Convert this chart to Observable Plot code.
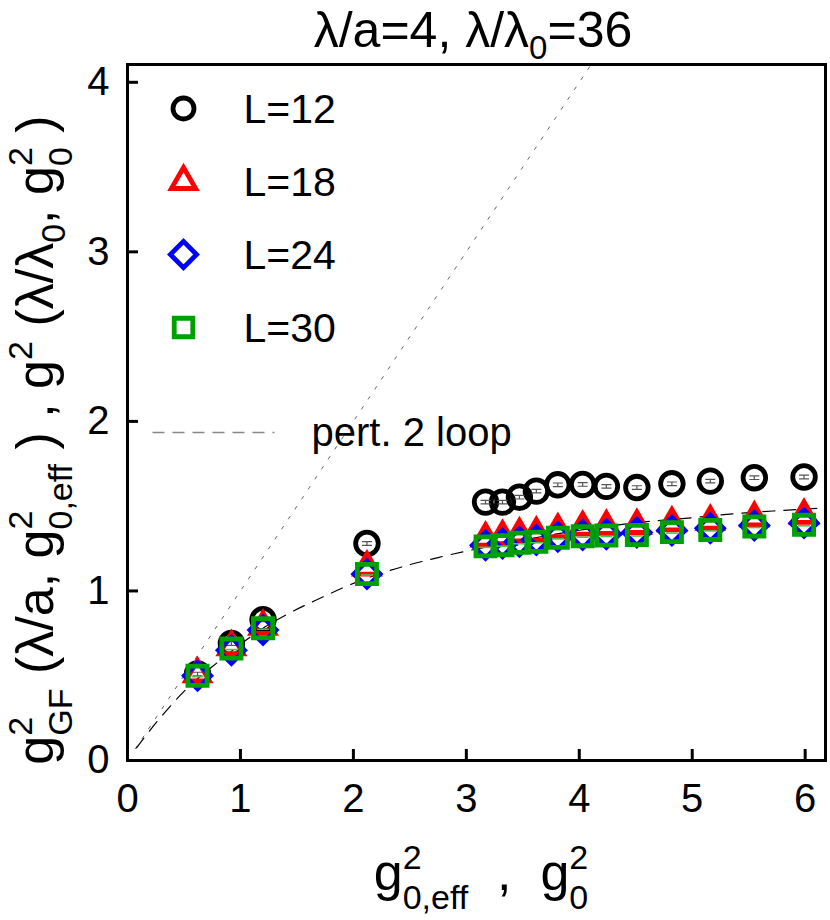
<!DOCTYPE html>
<html><head><meta charset="utf-8">
<script src="https://cdn.jsdelivr.net/npm/d3@7"></script>
<script src="https://cdn.jsdelivr.net/npm/@observablehq/plot@0.6"></script>
<style>
body{margin:0;background:#fff;}
#chart svg{display:block;}
</style></head><body><div id="chart"></div>
<script>
// ---- data ----
const g0 = [0.62, 0.92, 1.20, 2.12, 3.17, 3.32, 3.47, 3.62, 3.81, 4.03, 4.24, 4.51, 4.82, 5.16, 5.55, 5.99];
const L12 = [0.51, 0.69, 0.83, 1.28, 1.524, 1.524, 1.553, 1.589, 1.626, 1.628, 1.617, 1.61, 1.632, 1.648, 1.668, 1.672];
const L18 = [0.51, 0.67, 0.79, 1.14, 1.31, 1.32, 1.335, 1.34, 1.36, 1.375, 1.38, 1.385, 1.40, 1.41, 1.43, 1.445];
const L24 = [0.50, 0.65, 0.77, 1.10, 1.27, 1.28, 1.29, 1.30, 1.32, 1.33, 1.335, 1.345, 1.357, 1.37, 1.386, 1.40];
const L30 = [0.50, 0.66, 0.78, 1.10, 1.263, 1.27, 1.284, 1.29, 1.314, 1.323, 1.327, 1.33, 1.347, 1.36, 1.38, 1.39];
const seriesNames = ["L=12", "L=18", "L=24", "L=30"];

// perturbative 2-loop curve
const pertX = [0.08, 0.3, 0.55, 0.8, 1.0, 1.2, 1.45, 1.7, 2.0, 2.25, 2.5, 2.75, 3.0, 3.25, 3.5, 3.75, 4.0, 4.25, 4.5, 4.75, 5.0, 5.25, 5.5, 5.75, 6.18];
const pertY = [0.075, 0.26, 0.44, 0.58, 0.685, 0.78, 0.875, 0.955, 1.045, 1.105, 1.155, 1.197, 1.235, 1.268, 1.30, 1.33, 1.358, 1.382, 1.402, 1.418, 1.432, 1.448, 1.462, 1.473, 1.49];
// tree-level diagonal g_GF^2 = g_0^2
const treeX = [0.07, 4.3];
const treeY = [0.07, 4.3];

const xTicks = [0, 1, 2, 3, 4, 5, 6];
const yTicks = [0, 1, 2, 3, 4];
const xDomain = [0, 6.18];
const yDomain = [0, 4.105];
const pertLabel = "pert. 2 loop";

// ---- styling ----
const W = 830, H = 920, ML = 127, MR = 5, MT = 64, MB = 160;
const FONT = "'Liberation Sans', Arial, Helvetica, sans-serif";
const SW = 4.8;
const styles = [
  {symbol: "circle", color: "#000000", r: 11.3, lr: 10.5},
  {symbol: "triangle2", color: "#ff0000", r: 11.3, lr: 11.6},
  {symbol: "diamond2", color: "#0000ff", r: 11.8, lr: 11.8},
  {symbol: "square2", color: "#00a000", r: 12.2, lr: 11.8}
];
const seriesValues = [L12, L18, L24, L30];

const capDouble = {draw(ctx) { const w = 5, h = 1.8; ctx.moveTo(-w, -h); ctx.lineTo(w, -h); ctx.moveTo(-w, h); ctx.lineTo(w, h); ctx.moveTo(0, -h); ctx.lineTo(0, h); }};
const capSingle = {draw(ctx) { ctx.moveTo(-6, 1); ctx.lineTo(6, 1); }};
const keyLine = {draw(ctx) { ctx.moveTo(-61, 0); ctx.lineTo(61, 0); }};

const marks = [];
marks.push(Plot.line(treeX.map((x, i) => ({x, y: treeY[i]})), {x: "x", y: "y", stroke: "#666", strokeWidth: 1, strokeDasharray: "3,9", clip: true}));
marks.push(Plot.line(pertX.map((x, i) => ({x, y: pertY[i]})), {x: "x", y: "y", stroke: "#000", strokeWidth: 1.2, strokeDasharray: "12,9", curve: "monotone-x", clip: true}));

seriesValues.forEach((vals, k) => {
  const st = styles[k];
  const data = g0.map((x, i) => ({x, y: vals[i]}));
  marks.push(Plot.dot(data, {x: "x", y: "y", symbol: st.symbol, r: st.r, stroke: st.color, strokeWidth: SW, fill: "none"}));
  if (k === 0) marks.push(Plot.dot(data, {x: "x", y: "y", symbol: capDouble, r: 5, stroke: "#555", strokeWidth: 1.2}));
  if (k === 3) marks.push(Plot.dot(data, {x: "x", y: "y", symbol: capSingle, r: 5, stroke: "#4cc44c", strokeWidth: 1.6}));
});

// legend inside the frame
seriesNames.forEach((name, k) => {
  const st = styles[k];
  marks.push(Plot.dot([name], {frameAnchor: "top-left", dx: 56, dy: 44 + 73 * k, symbol: st.symbol, r: st.lr, stroke: st.color, strokeWidth: SW, fill: "none"}));
  marks.push(Plot.text([name], {frameAnchor: "top-left", dx: 116, dy: 45 + 73 * k, text: d => d, textAnchor: "start", lineAnchor: "middle", fontSize: 41, fill: "#000"}));
});
marks.push(Plot.dot([pertLabel], {frameAnchor: "top-left", dx: 86, dy: 368, symbol: keyLine, r: 5, stroke: "#888", strokeWidth: 1.3, strokeDasharray: "12,8"}));
marks.push(Plot.text([pertLabel], {frameAnchor: "top-left", dx: 184, dy: 369, text: d => d, textAnchor: "start", lineAnchor: "middle", fontSize: 40, fill: "#000"}));

marks.push(Plot.axisX(xTicks, {tickSize: -11, tickPadding: 34, fontSize: 40, strokeWidth: 3, label: null, fill: "#000", tickFormat: d3.format("d")}));
marks.push(Plot.axisY(yTicks, {tickSize: -11, tickPadding: 29, fontSize: 40, strokeWidth: 3, label: null, fill: "#000", tickFormat: d3.format("d")}));
marks.push(Plot.frame({stroke: "#000", strokeWidth: 3}));

const chart = Plot.plot({
  width: W, height: H,
  marginLeft: ML, marginRight: MR, marginTop: MT, marginBottom: MB,
  x: {domain: xDomain},
  y: {domain: yDomain},
  style: {fontFamily: FONT, background: "#fff", color: "#000", overflow: "visible"},
  marks
});
document.getElementById("chart").appendChild(chart);

// ---- rich text labels (super/subscripts) ----
const svg = d3.select(chart);
function richText({x, y, rotate = 0, size, scriptSize, parts}) {
  const t = svg.append("text")
    .attr("transform", `translate(${x},${y})` + (rotate ? ` rotate(${rotate})` : ""))
    .attr("text-anchor", "middle").attr("font-family", FONT).attr("font-size", size)
    .attr("fill", "#000").style("white-space", "pre");
  const up = size * 0.40, down = size * 0.36;
  let pdy = 0, pdx = 0;
  for (const p of parts) {
    if (typeof p === "string") {
      t.append("tspan").text(p).attr("dy", pdy).attr("dx", pdx);
      pdy = 0; pdx = 0;
    } else {
      let cur = 0;
      if (p.sup) {
        const s = t.append("tspan").text(p.sup).attr("font-size", scriptSize).attr("dy", pdy - up).attr("dx", pdx);
        pdx = 0; cur = -up;
        const w1 = s.node().getComputedTextLength();
        if (p.sub) {
          const b = t.append("tspan").text(p.sub).attr("font-size", scriptSize).attr("dy", up + down).attr("dx", -w1);
          const w2 = b.node().getComputedTextLength();
          cur = down;
          if (w1 > w2) pdx = w1 - w2;
        }
      } else if (p.sub) {
        t.append("tspan").text(p.sub).attr("font-size", scriptSize).attr("dy", pdy + size * 0.24).attr("dx", pdx);
        pdx = 0; cur = size * 0.24;
      }
      pdy = -cur;
    }
  }
  return t;
}
richText({x: 473, y: 47, size: 50, scriptSize: 33, parts: ["λ/a=4, λ/λ", {sub: "0"}, "=36"]});
richText({x: 481, y: 890, size: 52, scriptSize: 34, parts: ["g", {sup: "2", sub: "0,eff"}, "  ,  g", {sup: "2", sub: "0"}]});
richText({x: 53, y: 440, rotate: -90, size: 52, scriptSize: 34,
  parts: ["g", {sup: "2", sub: "GF"}, " (λ/a, g", {sup: "2", sub: "0,eff"}, " ) , g", {sup: "2"}, " (λ/λ", {sub: "0"}, ", g", {sup: "2", sub: "0"}, " )"]});
</script>
</body></html>
